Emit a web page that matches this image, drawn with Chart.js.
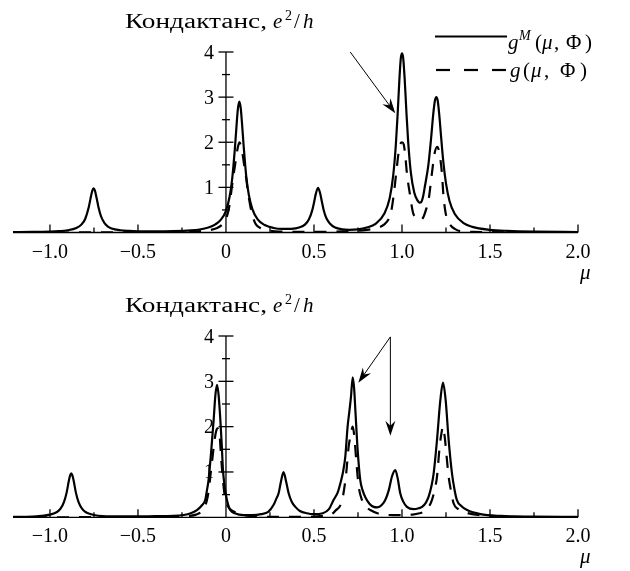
<!DOCTYPE html>
<html>
<head>
<meta charset="utf-8">
<script src="https://cdn.jsdelivr.net/npm/chart.js@4"></script>
<style>
  html, body { margin: 0; padding: 0; background: #fff; }
  #wrap { position: relative; width: 630px; height: 571px; }
  canvas { position: absolute; left: 0; }
</style>
</head>
<body>
<div id="wrap">
  <canvas id="topChart" width="630" height="286" style="top:0"></canvas>
  <canvas id="botChart" width="630" height="285" style="top:286px"></canvas>
</div>
<script>
// upper panel, g^M (solid)
const muTopM = [-1.21, -1.1, -1.0, -0.95, -0.9, -0.85, -0.82, -0.8, -0.78, -0.77, -0.76, -0.752, -0.745, -0.735, -0.725, -0.71, -0.69, -0.67, -0.65, -0.6, -0.55, -0.5, -0.4, -0.3, -0.2, -0.15, -0.1, -0.06, -0.03, 0, 0.02, 0.035, 0.05, 0.06, 0.068, 0.076, 0.084, 0.092, 0.1, 0.115, 0.13, 0.15, 0.18, 0.22, 0.27, 0.32, 0.37, 0.42, 0.45, 0.47, 0.49, 0.5, 0.51, 0.523, 0.535, 0.545, 0.555, 0.57, 0.59, 0.62, 0.66, 0.7, 0.75, 0.8, 0.85, 0.9, 0.93, 0.95, 0.965, 0.975, 0.985, 0.993, 1.0, 1.007, 1.015, 1.025, 1.035, 1.05, 1.07, 1.09, 1.1, 1.11, 1.12, 1.13, 1.15, 1.165, 1.178, 1.187, 1.195, 1.203, 1.212, 1.222, 1.235, 1.25, 1.27, 1.3, 1.35, 1.4, 1.5, 1.6, 1.75, 2.0];
const gMTop = [0.01, 0.012, 0.02, 0.03, 0.05, 0.1, 0.18, 0.3, 0.555, 0.745, 0.92, 0.98, 0.935, 0.765, 0.573, 0.36, 0.206, 0.13, 0.09, 0.05, 0.035, 0.028, 0.025, 0.03, 0.047, 0.067, 0.11, 0.18, 0.28, 0.48, 0.78, 1.18, 1.83, 2.37, 2.75, 2.9, 2.75, 2.37, 1.94, 1.25, 0.83, 0.52, 0.29, 0.165, 0.1, 0.079, 0.08, 0.115, 0.18, 0.28, 0.49, 0.66, 0.85, 0.99, 0.87, 0.68, 0.5, 0.32, 0.2, 0.11, 0.07, 0.06, 0.07, 0.11, 0.19, 0.42, 0.76, 1.26, 1.94, 2.6, 3.37, 3.85, 3.97, 3.86, 3.42, 2.68, 2.02, 1.34, 0.88, 0.7, 0.66, 0.68, 0.8, 1.02, 1.5, 2.07, 2.64, 2.92, 3.0, 2.92, 2.6, 2.13, 1.56, 1.09, 0.7, 0.41, 0.21, 0.125, 0.06, 0.036, 0.02, 0.01];

// upper panel, g (dashed)
const muTopG = [-1.21, -0.5, -0.2, -0.1, -0.05, -0.02, 0, 0.01, 0.02, 0.03, 0.04, 0.05, 0.06, 0.068, 0.077, 0.086, 0.095, 0.105, 0.115, 0.125, 0.14, 0.155, 0.17, 0.2, 0.25, 0.3, 0.5, 0.7, 0.8, 0.85, 0.9, 0.925, 0.937, 0.952, 0.967, 0.98, 0.99, 1.0, 1.01, 1.02, 1.028, 1.047, 1.062, 1.08, 1.1, 1.12, 1.14, 1.151, 1.17, 1.185, 1.2, 1.213, 1.227, 1.236, 1.252, 1.274, 1.3, 1.33, 1.4, 1.6, 2.0];
const gTop = [0, 0.003, 0.02, 0.05, 0.1, 0.18, 0.3, 0.42, 0.6, 0.9, 1.2, 1.45, 1.72, 1.9, 2.0, 1.9, 1.72, 1.45, 1.2, 0.9, 0.55, 0.32, 0.18, 0.09, 0.04, 0.02, 0.015, 0.03, 0.06, 0.09, 0.18, 0.3, 0.43, 0.8, 1.31, 1.75, 1.95, 2.0, 1.95, 1.65, 1.31, 0.8, 0.45, 0.32, 0.28, 0.33, 0.55, 0.72, 1.31, 1.75, 1.9, 1.75, 1.31, 0.8, 0.35, 0.17, 0.08, 0.03, 0.015, 0.005, 0];

// lower panel, g^M (solid)
const muBotM = [-1.21, -1.1, -1.05, -1.0, -0.96, -0.94, -0.92, -0.905, -0.893, -0.885, -0.879, -0.873, -0.865, -0.853, -0.838, -0.818, -0.798, -0.78, -0.75, -0.7, -0.6, -0.5, -0.4, -0.3, -0.24, -0.2, -0.165, -0.14, -0.118, -0.108, -0.099, -0.085, -0.07, -0.06, -0.051, -0.042, -0.032, -0.024, -0.017, -0.008, 0, 0.012, 0.024, 0.05, 0.1, 0.15, 0.2, 0.24, 0.27, 0.285, 0.299, 0.313, 0.327, 0.341, 0.356, 0.375, 0.394, 0.42, 0.46, 0.5, 0.55, 0.585, 0.611, 0.635, 0.65, 0.665, 0.678, 0.691, 0.702, 0.71, 0.72, 0.728, 0.735, 0.748, 0.763, 0.776, 0.791, 0.815, 0.839, 0.86, 0.885, 0.905, 0.925, 0.943, 0.962, 0.976, 0.99, 1.008, 1.028, 1.066, 1.095, 1.114, 1.135, 1.151, 1.168, 1.18, 1.199, 1.218, 1.233, 1.248, 1.265, 1.284, 1.298, 1.312, 1.34, 1.37, 1.445, 1.56, 1.75, 2.0];
const gMBot = [0.01, 0.015, 0.03, 0.06, 0.117, 0.19, 0.34, 0.55, 0.8, 0.93, 0.97, 0.93, 0.8, 0.55, 0.34, 0.19, 0.117, 0.082, 0.05, 0.027, 0.02, 0.021, 0.025, 0.03, 0.05, 0.09, 0.16, 0.25, 0.38, 0.6, 0.82, 1.41, 2.15, 2.7, 2.92, 2.7, 2.15, 1.6, 1.04, 0.7, 0.49, 0.28, 0.16, 0.09, 0.05, 0.05, 0.07, 0.12, 0.27, 0.4, 0.53, 0.8, 1.0, 0.8, 0.53, 0.33, 0.23, 0.14, 0.09, 0.07, 0.09, 0.18, 0.38, 0.55, 0.75, 1.0, 1.34, 2.0, 2.37, 2.65, 3.09, 2.85, 2.37, 1.49, 0.82, 0.6, 0.45, 0.3, 0.23, 0.22, 0.27, 0.38, 0.6, 0.9, 1.04, 0.85, 0.53, 0.34, 0.23, 0.18, 0.2, 0.23, 0.32, 0.45, 0.7, 0.97, 1.71, 2.59, 2.97, 2.59, 1.71, 0.97, 0.62, 0.38, 0.24, 0.16, 0.07, 0.03, 0.015, 0.01];

// lower panel, g (dashed)
const muBotG = [-1.21, -0.5, -0.25, -0.17, -0.14, -0.125, -0.108, -0.097, -0.089, -0.08, -0.074, -0.065, -0.056, -0.048, -0.04, -0.034, -0.028, -0.017, -0.008, 0, 0.015, 0.03, 0.06, 0.1, 0.18, 0.3, 0.45, 0.55, 0.6, 0.62, 0.66, 0.683, 0.697, 0.708, 0.72, 0.73, 0.74, 0.754, 0.773, 0.795, 0.82, 0.877, 0.95, 1.0, 1.06, 1.1, 1.123, 1.15, 1.17, 1.185, 1.199, 1.214, 1.224, 1.233, 1.242, 1.252, 1.265, 1.28, 1.293, 1.32, 1.35, 1.43, 1.6, 2.0];
const gBot = [0, 0.005, 0.02, 0.06, 0.12, 0.2, 0.38, 0.62, 0.9, 1.2, 1.41, 1.7, 1.9, 1.96, 1.9, 1.7, 1.34, 0.82, 0.5, 0.35, 0.22, 0.16, 0.1, 0.05, 0.02, 0.01, 0.01, 0.03, 0.07, 0.14, 0.38, 0.97, 1.56, 1.8, 2.0, 1.75, 1.26, 0.68, 0.38, 0.24, 0.16, 0.07, 0.05, 0.05, 0.06, 0.09, 0.12, 0.22, 0.38, 0.6, 0.9, 1.56, 1.85, 2.0, 1.8, 1.41, 0.9, 0.55, 0.31, 0.18, 0.12, 0.05, 0.01, 0];

// axes
const xTickValues = [-1.0, -0.75, -0.5, -0.25, 0.25, 0.5, 0.75, 1.0, 1.25, 1.5, 1.75, 2.0];
const xLabelValues = [-1.0, -0.5, 0, 0.5, 1.0, 1.5, 2.0];
const xLabelTexts = ['\u22121.0', '\u22120.5', '0', '0.5', '1.0', '1.5', '2.0'];
const yTickValues = [0.5, 1, 1.5, 2, 2.5, 3, 3.5, 4];
const yLabelValues = [1, 2, 3, 4];
const yLabelTexts = ['1', '2', '3', '4'];

// arrows in data units: [fromMu, fromG, toMu, toG]
const arrowsTop = [[0.706, 4.0, 0.962, 2.64]];
const arrowsBot = [[0.934, 3.98, 0.752, 2.97], [0.934, 3.98, 0.934, 1.8]];

const SERIF = '"Liberation Serif", "DejaVu Serif", serif';

function piece(ctx, s, x, y, size, italic, width) {
  ctx.font = (italic ? 'italic ' : '') + size + 'px ' + SERIF;
  ctx.textAlign = 'left';
  ctx.textBaseline = 'alphabetic';
  if (width) {
    const w = ctx.measureText(s).width;
    ctx.save();
    ctx.translate(x, y);
    ctx.scale(width / w, 1);
    ctx.fillText(s, 0, 0);
    ctx.restore();
  } else {
    ctx.fillText(s, x, y);
  }
}

function arrow(ctx, x1, y1, x2, y2) {
  const a = Math.atan2(y2 - y1, x2 - x1);
  const L = 15, W = 5;
  ctx.lineWidth = 1;
  ctx.beginPath();
  ctx.moveTo(x1, y1);
  ctx.lineTo(x2 - Math.cos(a) * 8, y2 - Math.sin(a) * 8);
  ctx.stroke();
  ctx.save();
  ctx.translate(x2, y2);
  ctx.rotate(a);
  ctx.beginPath();
  ctx.moveTo(0, 0);
  ctx.lineTo(-L, -W);
  ctx.lineTo(-L + 5, 0);
  ctx.lineTo(-L, W);
  ctx.closePath();
  ctx.fill();
  ctx.restore();
}

function axesPlugin(arrows, withLegend) {
  return {
    id: 'physAxes',
    afterDatasetsDraw(chart) {
      const ctx = chart.ctx;
      const xs = chart.scales.x, ys = chart.scales.y;
      const x0 = xs.getPixelForValue(0), y0 = ys.getPixelForValue(0);
      ctx.save();
      ctx.strokeStyle = '#000';
      ctx.fillStyle = '#000';
      ctx.lineWidth = 1.3;
      ctx.setLineDash([]);

      // x axis
      ctx.beginPath();
      ctx.moveTo(chart.chartArea.left, y0);
      ctx.lineTo(xs.getPixelForValue(2.0), y0);
      ctx.stroke();
      xTickValues.forEach(v => {
        const px = xs.getPixelForValue(v);
        const len = xLabelValues.includes(v) ? 8 : 5;
        ctx.beginPath();
        ctx.moveTo(px, y0);
        ctx.lineTo(px, y0 - len);
        ctx.stroke();
      });
      ctx.textAlign = 'center';
      ctx.textBaseline = 'alphabetic';
      ctx.font = '20px ' + SERIF;
      xLabelValues.forEach((v, i) => {
        ctx.fillText(xLabelTexts[i], xs.getPixelForValue(v), y0 + 25);
      });

      // y axis
      ctx.beginPath();
      ctx.moveTo(x0, y0);
      ctx.lineTo(x0, ys.getPixelForValue(4));
      ctx.stroke();
      yTickValues.forEach(v => {
        const py = ys.getPixelForValue(v);
        const len = Number.isInteger(v) ? 7.5 : 4;
        ctx.beginPath();
        ctx.moveTo(x0 - len, py);
        ctx.lineTo(x0 + len, py);
        ctx.stroke();
      });
      ctx.textAlign = 'right';
      yLabelValues.forEach((v, i) => {
        ctx.fillText(yLabelTexts[i], x0 - 12, ys.getPixelForValue(v) + 6.5);
      });

      // axis captions
      const yTop = ys.getPixelForValue(4);
      piece(ctx, 'Кондактанс,', 125, yTop - 24, 20, false, 142);
      piece(ctx, 'e', 273, yTop - 24, 21, true);
      piece(ctx, '2', 285, yTop - 32, 14, false);
      piece(ctx, '/', 294, yTop - 24, 21, false);
      piece(ctx, 'h', 303, yTop - 24, 21, true);
      piece(ctx, '\u03bc', 580, y0 + 46, 21, true);

      // arrows
      arrows.forEach(a => {
        arrow(ctx, xs.getPixelForValue(a[0]), ys.getPixelForValue(a[1]),
                   xs.getPixelForValue(a[2]), ys.getPixelForValue(a[3]));
      });

      if (withLegend) {
        ctx.lineWidth = 2.2;
        ctx.beginPath();
        ctx.moveTo(435, 36.5);
        ctx.lineTo(507, 36.5);
        ctx.stroke();
        ctx.setLineDash([14, 14]);
        ctx.beginPath();
        ctx.moveTo(436, 70);
        ctx.lineTo(507, 70);
        ctx.stroke();
        ctx.setLineDash([]);
        piece(ctx, 'g', 508, 49, 21, true);
        piece(ctx, 'M', 519, 40, 14, true);
        piece(ctx, '(', 535, 49, 21, false);
        piece(ctx, '\u03bc', 542, 49, 21, true);
        piece(ctx, ',', 554, 49, 21, false);
        piece(ctx, '\u03a6', 566, 49, 21, false);
        piece(ctx, ')', 585, 49, 21, false);
        piece(ctx, 'g', 510, 77, 21, true);
        piece(ctx, '(', 523, 77, 21, false);
        piece(ctx, '\u03bc', 531, 77, 21, true);
        piece(ctx, ',', 544, 77, 21, false);
        piece(ctx, '\u03a6', 560, 77, 21, false);
        piece(ctx, ')', 580, 77, 21, false);
      }
      ctx.restore();
    }
  };
}

function makeChart(id, muM, gM, muG, g, pad, arrows, withLegend) {
  return new Chart(document.getElementById(id), {
    type: 'line',
    data: {
      datasets: [
        {
          label: 'gM',
          data: muM.map((m, i) => ({ x: m, y: gM[i] })),
          borderColor: '#000',
          borderWidth: 2.2,
          pointRadius: 0,
          fill: false,
          cubicInterpolationMode: 'monotone'
        },
        {
          label: 'g',
          data: muG.map((m, i) => ({ x: m, y: g[i] })),
          borderColor: '#000',
          borderWidth: 2.2,
          borderDash: [12, 10],
          pointRadius: 0,
          fill: false,
          cubicInterpolationMode: 'monotone'
        }
      ]
    },
    options: {
      responsive: false,
      animation: false,
      devicePixelRatio: 1,
      layout: { padding: pad },
      plugins: { legend: { display: false }, tooltip: { enabled: false } },
      scales: {
        x: { type: 'linear', min: -1.21, max: 2.0, display: false },
        y: { type: 'linear', min: 0, max: 4, display: false }
      }
    },
    plugins: [axesPlugin(arrows, withLegend)]
  });
}

makeChart('topChart', muTopM, gMTop, muTopG, gTop,
  { left: 13, right: 52, top: 52, bottom: 53.5 }, arrowsTop, true);
makeChart('botChart', muBotM, gMBot, muBotG, gBot,
  { left: 13, right: 52, top: 50, bottom: 53.7 }, arrowsBot, false);
</script>
</body>
</html>
